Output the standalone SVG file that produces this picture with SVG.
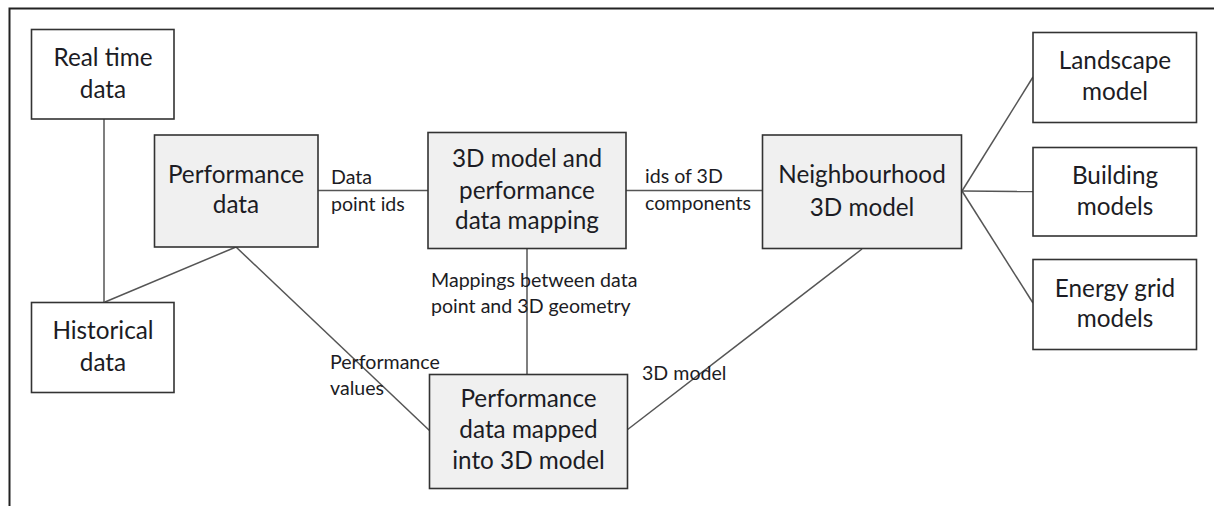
<svg xmlns="http://www.w3.org/2000/svg" width="1214" height="506" viewBox="0 0 1214 506">
  <style>
    .frame { fill: none; stroke: #222; stroke-width: 2; }
    .box { fill: #ffffff; stroke: #333; stroke-width: 1.6; }
    .box.proc { fill: #f0f0f0; }
    .edge { fill: none; stroke: #555; stroke-width: 1.5; }
    .t { font-family: Lato, "Open Sans", "Liberation Sans", sans-serif; fill: #1c1c24; }
    .nt { font-size: 24.3px; text-anchor: middle; }
    .lt { font-size: 19.6px; }
  </style>
  <rect width="1214" height="506" fill="#ffffff"/>
  <!-- outer frame: top and left edges only -->
  <path class="frame" d="M9.5 506 V8.5 H1214"/>

  <g id="connectors">
    <line class="edge" x1="104" y1="119" x2="104" y2="302"/>
    <line class="edge" x1="236" y1="247" x2="105" y2="302"/>
    <line class="edge" x1="236" y1="247" x2="430" y2="431"/>
    <line class="edge" x1="318" y1="190.5" x2="428" y2="190.5"/>
    <line class="edge" x1="626" y1="190.5" x2="762" y2="190.5"/>
    <line class="edge" x1="527" y1="248" x2="527" y2="375"/>
    <line class="edge" x1="627" y1="430" x2="862" y2="249"/>
    <line class="edge" x1="962" y1="191" x2="1033" y2="77"/>
    <line class="edge" x1="962" y1="191" x2="1033" y2="191.5"/>
    <line class="edge" x1="962" y1="191" x2="1033" y2="303"/>
    <text class="t lt" x="331" y="183.5">Data</text>
    <text class="t lt" x="331" y="210.5">point ids</text>
    <text class="t lt" x="645" y="182.5">ids of 3D</text>
    <text class="t lt" x="645" y="209.5">components</text>
    <text class="t lt" x="431" y="286.5">Mappings between data</text>
    <text class="t lt" x="431" y="312.5">point and 3D geometry</text>
    <text class="t lt" x="330" y="369">Performance</text>
    <text class="t lt" x="330" y="395">values</text>
    <text class="t lt" x="642" y="380">3D model</text>
  </g>

  <g id="real-time-data">
    <rect class="box" x="31.5" y="29.5" width="142.5" height="89.5"/>
    <text class="t nt" x="103" y="65.7">Real time</text>
    <text class="t nt" x="103" y="97.7">data</text>
  </g>
  <g id="historical-data">
    <rect class="box" x="31.5" y="302.5" width="142.5" height="90"/>
    <text class="t nt" x="103" y="339.3">Historical</text>
    <text class="t nt" x="103" y="371">data</text>
  </g>
  <g id="performance-data">
    <rect class="box proc" x="154.5" y="135" width="163.5" height="112"/>
    <text class="t nt" x="236" y="182.7">Performance</text>
    <text class="t nt" x="236" y="213.3">data</text>
  </g>
  <g id="model-data-mapping">
    <rect class="box proc" x="428" y="132.5" width="198" height="116"/>
    <text class="t nt" x="527" y="166.7">3D model and</text>
    <text class="t nt" x="527" y="198.5">performance</text>
    <text class="t nt" x="527" y="229.3">data mapping</text>
  </g>
  <g id="neighbourhood-model">
    <rect class="box proc" x="762.5" y="135" width="199" height="113.5"/>
    <text class="t nt" x="862" y="183.3">Neighbourhood</text>
    <text class="t nt" x="862" y="216">3D model</text>
  </g>
  <g id="mapped-performance-data">
    <rect class="box proc" x="429.5" y="374.5" width="198" height="114"/>
    <text class="t nt" x="528.5" y="406.7">Performance</text>
    <text class="t nt" x="528.5" y="438.3">data mapped</text>
    <text class="t nt" x="528.5" y="469.3">into 3D model</text>
  </g>
  <g id="landscape-model">
    <rect class="box" x="1033" y="32.5" width="163.5" height="90"/>
    <text class="t nt" x="1115" y="69">Landscape</text>
    <text class="t nt" x="1115" y="100">model</text>
  </g>
  <g id="building-models">
    <rect class="box" x="1033" y="147.5" width="163.5" height="88.5"/>
    <text class="t nt" x="1115" y="184.3">Building</text>
    <text class="t nt" x="1115" y="215">models</text>
  </g>
  <g id="energy-grid-models">
    <rect class="box" x="1033" y="259.5" width="163.5" height="90"/>
    <text class="t nt" x="1115" y="296.7">Energy grid</text>
    <text class="t nt" x="1115" y="327.3">models</text>
  </g>
</svg>
